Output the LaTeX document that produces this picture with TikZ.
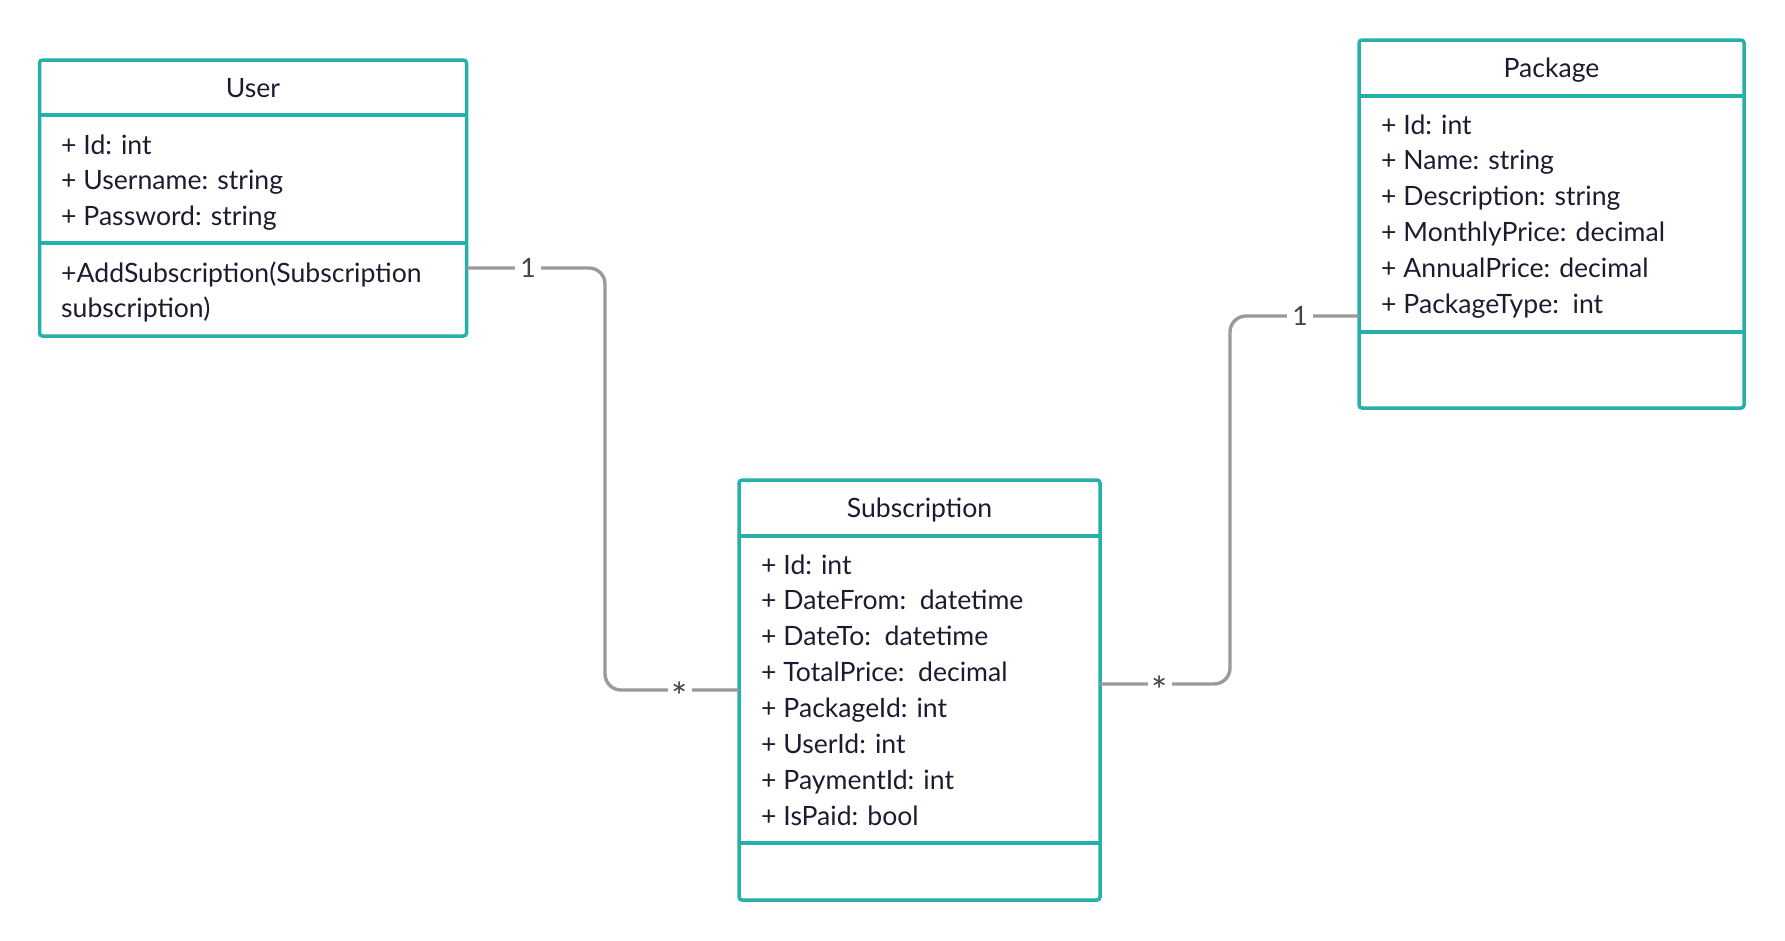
\documentclass[tikz,border=0pt]{standalone}
\usepackage{fontspec}
\setmainfont{Lato}
\definecolor{teal1}{HTML}{27B0AB}
\definecolor{conn}{HTML}{9A9A9A}
\definecolor{txt}{HTML}{1C1C30}
\definecolor{lbl}{HTML}{444444}
\begin{document}
\begin{tikzpicture}[x=1pt,y=-1pt,
  cls/.style={draw=teal1, line width=3.5pt, rounded corners=3pt, inner sep=0pt, outer sep=0pt},
  divider/.style={draw=teal1, line width=3.5pt},
  title/.style={text=txt, font=\fontsize{26.6}{34}\selectfont, inner sep=0pt, anchor=base},
  attr/.style={text=txt, font=\fontsize{26.6}{34}\selectfont, inner sep=0pt, anchor=base west},
  assoc/.style={draw=conn, line width=3.4pt, rounded corners=16pt},
  mult/.style={fill=white, text=lbl, font=\fontsize{26.6}{34}\selectfont, inner sep=5pt},
  star/.style={fill=white, text=lbl, font=\fontsize{38}{34}\selectfont, inner xsep=4pt, inner ysep=2pt}]
\useasboundingbox (0,0) rectangle (1785,940);

% User
\node[cls, minimum width=427pt, minimum height=276pt] (user) at (253,198) {};
\draw[divider] (user.west |- 0,115) -- (user.east |- 0,115);
\draw[divider] (user.west |- 0,243) -- (user.east |- 0,243);
\node[title] (userT) at (253,97) {User};
\node[attr] (u1) at (61,154) {+ Id: int};
\node[attr] (u2) at (61,189.5) {+ Username: string};
\node[attr] (u3) at (61,225) {+ Password: string};
\node[attr] (u4) at (61,282) {+AddSubscription(Subscription};
\node[attr] (u5) at (61,317.5) {subscription)};

% Package
\node[cls, minimum width=385pt, minimum height=368pt] (pkg) at (1551.5,224) {};
\draw[divider] (pkg.west |- 0,96) -- (pkg.east |- 0,96);
\draw[divider] (pkg.west |- 0,332) -- (pkg.east |- 0,332);
\node[title] (pkgT) at (1551.5,77) {Package};
\node[attr] (p1) at (1381,134) {+ Id: int};
\node[attr] (p2) at (1381,169.8) {+ Name: string};
\node[attr] (p3) at (1381,205.6) {+ Description: string};
\node[attr] (p4) at (1381,241.4) {+ MonthlyPrice: decimal};
\node[attr] (p5) at (1381,277.2) {+ AnnualPrice: decimal};
\node[attr] (p6) at (1381,313) {+ PackageType:\ \ int};

% Subscription
\node[cls, minimum width=361pt, minimum height=420pt] (sub) at (919.5,690) {};
\draw[divider] (sub.west |- 0,536) -- (sub.east |- 0,536);
\draw[divider] (sub.west |- 0,843) -- (sub.east |- 0,843);
\node[title] (subT) at (919.5,517) {Subscription};
\node[attr] (s1) at (761,574) {+ Id: int};
\node[attr] (s2) at (761,609.9) {+ DateFrom:\ \ datetime};
\node[attr] (s3) at (761,645.8) {+ DateTo:\ \ datetime};
\node[attr] (s4) at (761,681.7) {+ TotalPrice:\ \ decimal};
\node[attr] (s5) at (761,717.6) {+ PackageId: int};
\node[attr] (s6) at (761,753.5) {+ UserId: int};
\node[attr] (s7) at (761,789.4) {+ PaymentId: int};
\node[attr] (s8) at (761,825.3) {+ IsPaid: bool};

% connector ends
\coordinate (ua) at (user.east |- 0,268);
\coordinate (sa) at (sub.west |- 0,690);
\coordinate (sb) at (sub.east |- 0,684);
\coordinate (pb) at (pkg.west |- 0,316);

\draw[assoc] (ua) -- (605,268) -- (605,690) -- (sa);
\draw[assoc] (sb) -- (1230,684) -- (1230,316) -- (pb);

\node[mult] (m1) at (528,268) {1};
\node[star] (m2) at (680,696) {*};
\node[star] (m3) at (1160,690) {*};
\node[mult] (m4) at (1300,316) {1};
\end{tikzpicture}
\end{document}
